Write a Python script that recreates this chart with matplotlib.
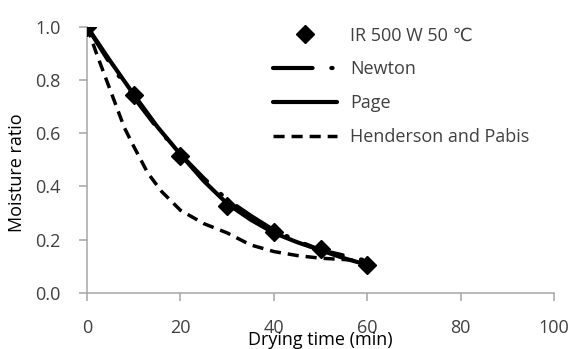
import matplotlib.pyplot as plt

plt.rcParams['font.family'] = ['Open Sans', 'DejaVu Sans']

# measured data
t_data = [0, 10, 20, 30, 40, 50, 60]
mr_data = [1.0, 0.745, 0.515, 0.325, 0.228, 0.163, 0.105]

# model curves
t_fit = [0, 5, 10, 15, 20, 25, 30, 35, 40, 45, 50, 55, 60]
mr_newton = [1.0, 0.86, 0.735, 0.62, 0.52, 0.43, 0.35, 0.29, 0.235, 0.195, 0.16, 0.14, 0.12]
mr_page = [1.0, 0.87, 0.745, 0.625, 0.52, 0.42, 0.335, 0.275, 0.225, 0.19, 0.16, 0.13, 0.105]

t_hp = [0, 2, 5, 8, 10, 13, 16, 20, 25, 30, 35, 40, 45, 50, 55, 60]
mr_hp = [1.0, 0.90, 0.76, 0.62, 0.55, 0.45, 0.38, 0.31, 0.26, 0.225, 0.18, 0.155, 0.14, 0.13, 0.125, 0.12]

fig = plt.figure(figsize=(5.69, 3.49), dpi=100)
ax = fig.add_axes([0.153, 0.161, 0.821, 0.7625])

ax.plot(t_data, mr_data, 'D', color='black', markersize=9, label='IR 500 W 50 \u2103', zorder=5)
ax.plot(t_fit, mr_newton, color='black', lw=3, linestyle=(0, (9.5, 4.5, 0.3, 4.5)),
        dash_capstyle='round', label='Newton')
ax.plot(t_fit, mr_page, color='black', lw=3, solid_capstyle='round', label='Page')
ax.plot(t_hp, mr_hp, color='black', lw=2.5, linestyle=(0, (3.2, 2.0)), label='Henderson and Pabis')

ax.set_xlim(0, 100)
ax.set_ylim(0, 1.0)
ax.set_xticks([0, 20, 40, 60, 80, 100])
ax.set_yticks([0.0, 0.2, 0.4, 0.6, 0.8, 1.0])
ax.set_yticklabels(['0.0', '0.2', '0.4', '0.6', '0.8', '1.0'])

for s in ['top', 'right']:
    ax.spines[s].set_visible(False)
for s in ['left', 'bottom']:
    ax.spines[s].set_color('#a6a6a6')
    ax.spines[s].set_linewidth(1.1)
ax.tick_params(colors='#a6a6a6', labelcolor='#404040', labelsize=13, length=6, width=1.1)
ax.tick_params(axis='x', pad=13)
ax.tick_params(axis='y', pad=13)

ax.set_xlabel('Drying time (min)', fontsize=13, color='black')
ax.xaxis.set_label_coords(0.5, -0.145)
ax.set_ylabel('Moisture ratio', fontsize=13, color='black')
ax.yaxis.set_label_coords(-0.13, 0.45)

leg = ax.legend(loc='upper left', bbox_to_anchor=(0.398, 1.0), frameon=False,
                fontsize=13, handlelength=3.55, handletextpad=0.72, labelspacing=0.87,
                numpoints=1, borderpad=0, borderaxespad=0)
for txt in leg.get_texts():
    txt.set_color('#404040')

fig.savefig('out.png', dpi=100)
